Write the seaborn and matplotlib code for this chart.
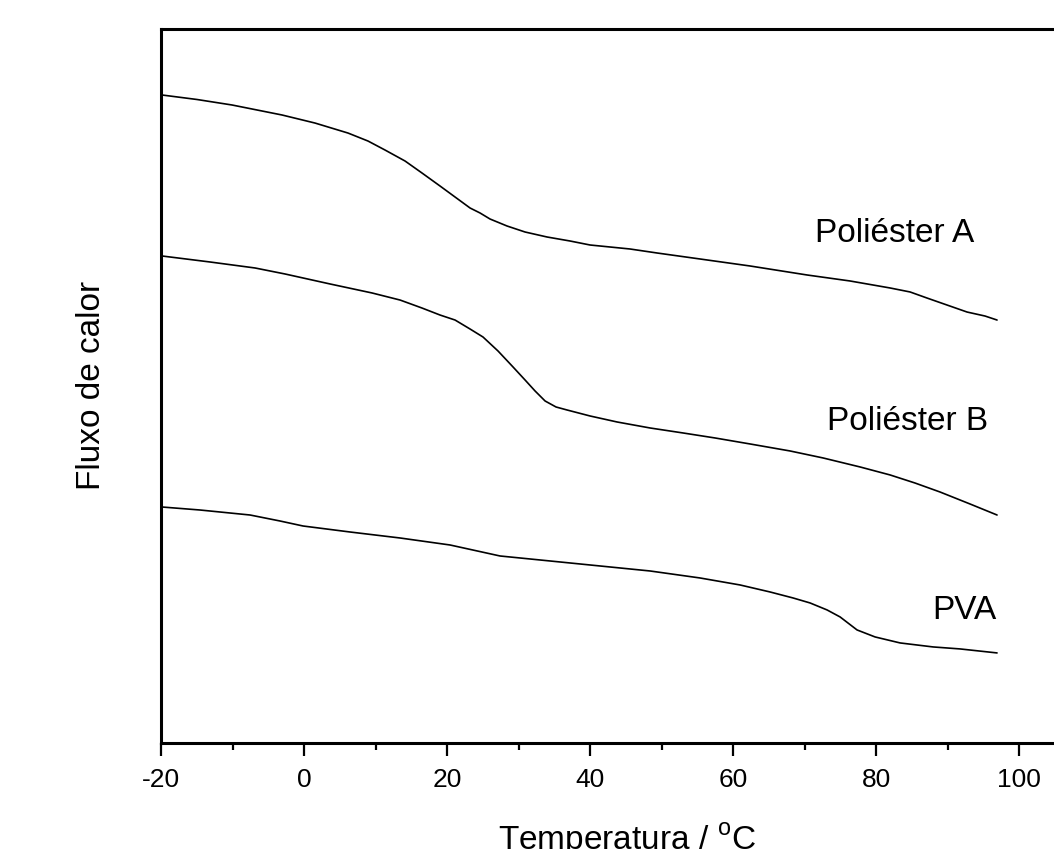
import matplotlib

matplotlib.use("Agg")
import matplotlib.pyplot as plt
import pandas as pd
import seaborn as sns
from matplotlib.ticker import MultipleLocator

# DSC traces (temperature in degC, heat flow in arbitrary units)
temp_a = [-19.86, -14.97, -10.07, -3.08, 1.54, 6.15, 8.95, 11.33, 14.13, 16.50,
          19.02, 21.12, 23.22, 24.62, 26.01, 28.39, 30.91, 33.99, 37.20, 40.00,
          45.59, 49.37, 55.38, 62.38, 70.35, 76.36, 81.96, 84.76, 87.13, 89.93,
          92.73, 95.24, 96.92]
flux_a = [90.76, 90.13, 89.36, 87.96, 86.83, 85.43, 84.31, 83.05, 81.51, 79.83,
          78.01, 76.47, 74.93, 74.23, 73.39, 72.41, 71.57, 70.87, 70.31, 69.75,
          69.19, 68.63, 67.79, 66.81, 65.55, 64.71, 63.73, 63.17, 62.32, 61.34,
          60.36, 59.80, 59.24]

temp_b = [-19.86, -13.15, -6.85, -2.66, 3.64, 9.51, 13.43, 16.50, 19.02, 21.12,
          23.22, 25.03, 27.13, 29.23, 30.91, 32.31, 33.71, 35.24, 36.78, 40.00,
          43.78, 48.39, 53.01, 57.48, 62.38, 67.97, 72.59, 77.76, 81.96, 85.45,
          88.95, 93.15, 96.92]
flux_b = [68.21, 67.37, 66.53, 65.69, 64.29, 63.03, 62.04, 60.92, 59.94, 59.24,
          57.98, 56.86, 54.90, 52.66, 50.84, 49.30, 47.90, 47.06, 46.64, 45.80,
          44.96, 44.12, 43.42, 42.72, 41.88, 40.90, 39.92, 38.66, 37.54, 36.41,
          35.15, 33.47, 31.93]

temp_pva = [-19.86, -14.55, -7.55, -3.36, -0.14, 6.43, 13.43, 20.42, 27.41, 34.41,
            41.40, 48.39, 55.38, 60.98, 65.17, 68.39, 70.77, 73.15, 74.97, 77.34,
            79.86, 83.36, 87.97, 91.75, 96.92]
flux_pva = [33.05, 32.63, 31.93, 31.09, 30.39, 29.55, 28.71, 27.73, 26.19, 25.49,
            24.79, 24.09, 23.11, 22.13, 21.15, 20.31, 19.61, 18.63, 17.65, 15.83,
            14.85, 14.01, 13.45, 13.17, 12.61]

names = ["Poliéster A", "Poliéster B", "PVA"]
label_pos = [(71.5, 71.4), (73.1, 45.0), (87.8, 18.6)]

frames = []
for name, t, f in zip(names, [temp_a, temp_b, temp_pva], [flux_a, flux_b, flux_pva]):
    frames.append(pd.DataFrame({"temp": t, "flux": f, "sample": name}))
df = pd.concat(frames, ignore_index=True)

sns.set_theme(style="ticks")
plt.rcParams["font.family"] = ["Liberation Sans", "DejaVu Sans"]
plt.rcParams["mathtext.fontset"] = "custom"
plt.rcParams["mathtext.rm"] = "Liberation Sans"
plt.rcParams["axes.unicode_minus"] = False
plt.rcParams["text.color"] = "black"
plt.rcParams["xtick.color"] = "black"
plt.rcParams["xtick.labelcolor"] = "black"

fig = plt.figure(figsize=(10.54, 8.49), dpi=100)
ax = fig.add_axes([0.1528, 0.1249, 0.8819, 0.8409])

sns.lineplot(data=df, x="temp", y="flux", hue="sample", palette=["black"] * 3,
             sort=False, estimator=None, linewidth=1.2, legend=False, ax=ax)

for name, (tx, ty) in zip(names, label_pos):
    ax.text(tx, ty, name, fontsize=24, ha="left", va="center", color="black")

ax.set_xlim(-20, 110)
ax.set_ylim(0, 100)
ax.xaxis.set_major_locator(MultipleLocator(20))
ax.xaxis.set_minor_locator(MultipleLocator(10))
ax.set_yticks([])
ax.tick_params(axis="x", which="major", direction="out", length=9, width=1.6,
               labelsize=19, pad=9, color="black", labelcolor="black")
ax.tick_params(axis="x", which="minor", direction="out", length=5, width=1.6,
               color="black")
for side in ["left", "bottom", "top", "right"]:
    ax.spines[side].set_visible(True)
    ax.spines[side].set_linewidth(2.2)
    ax.spines[side].set_color("black")
ax.set_xlabel("")
ax.set_ylabel("")

fig.text(627 / 1054, 1 - 821 / 849, "Temperatura / $^{\\mathrm{o}}$C", fontsize=24,
         ha="center", va="top", color="black")
fig.text(92 / 1054, 1 - 385 / 849, "Fluxo de calor", fontsize=24, rotation=90,
         ha="center", va="center", color="black")

fig.savefig("out.png", dpi=100)
